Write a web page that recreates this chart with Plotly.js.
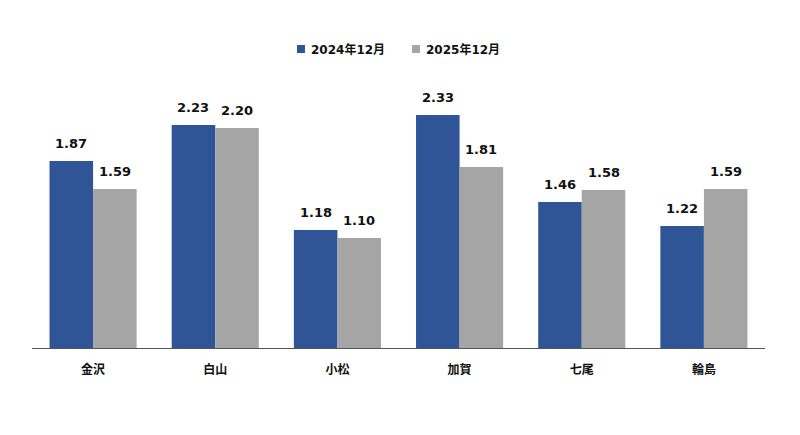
<!DOCTYPE html>
<html><head><meta charset="utf-8">
<script src="https://cdn.plot.ly/plotly-3.0.1.min.js"></script>
<style>body{margin:0;background:#fff}</style>
</head><body>
<div id="chart" style="width:800px;height:435px"></div>
<script>
const categories = ["金沢", "白山", "小松", "加賀", "七尾", "輪島"];
const series1Name = "2024年12月";
const series2Name = "2025年12月";
const values2024 = [1.87, 2.23, 1.18, 2.33, 1.46, 1.22];
const values2025 = [1.59, 2.20, 1.10, 1.81, 1.58, 1.59];

const FONT = "DejaVu Sans, Verdana, 'Noto Sans CJK JP', sans-serif";
const BLUE = "#2F5597", GRAY = "#A5A5A5";

const traces = [
  {type: "bar", name: series1Name, x: categories, y: values2024, marker: {color: BLUE}, hoverinfo: "none"},
  {type: "bar", name: series2Name, x: categories, y: values2025, marker: {color: GRAY}, hoverinfo: "none"}
];

const annotations = [];
const groupW = 1 - 0.287;
[values2024, values2025].forEach((vals, si) => {
  vals.forEach((v, i) => {
    annotations.push({
      x: i + (si === 0 ? -1 : 1) * groupW / 4, y: v, xref: "x", yref: "y",
      text: v.toFixed(2), showarrow: false, yshift: 18,
      font: {family: FONT, size: 13, color: "#111", weight: "bold"}
    });
  });
});

// custom legend (paper coords of a 733x250 plot area)
const legendItems = [
  {name: series1Name, color: BLUE, sq: [0.3615, 0.3724], tx: 0.3779},
  {name: series2Name, color: GRAY, sq: [0.5184, 0.5293], tx: 0.5348}
];
const shapes = [];
legendItems.forEach(it => {
  shapes.push({type: "rect", xref: "paper", yref: "paper", x0: it.sq[0], x1: it.sq[1], y0: 1.18, y1: 1.212,
               fillcolor: it.color, line: {width: 0}});
  annotations.push({xref: "paper", yref: "paper", x: it.tx, y: 1.196, xanchor: "left", yanchor: "middle",
                    text: it.name, showarrow: false,
                    font: {family: FONT, size: 12, color: "#111", weight: "bold"}});
});

const layout = {
  width: 800, height: 435,
  margin: {l: 32, r: 35, t: 98, b: 87},
  paper_bgcolor: "#fff", plot_bgcolor: "#fff",
  barmode: "group", bargap: 0.287, bargroupgap: 0,
  showlegend: false,
  xaxis: {type: "category", showline: true, linecolor: "#555", linewidth: 1,
          ticks: "", ticklabelstandoff: 11,
          tickfont: {family: FONT, size: 12, color: "#111", weight: "bold"},
          showgrid: false, zeroline: false, range: [-0.5, 5.5]},
  yaxis: {range: [0, 2.5], visible: false, showgrid: false, zeroline: false},
  annotations: annotations,
  shapes: shapes
};

Plotly.newPlot("chart", traces, layout, {staticPlot: true, displayModeBar: false});
</script>
</body></html>
